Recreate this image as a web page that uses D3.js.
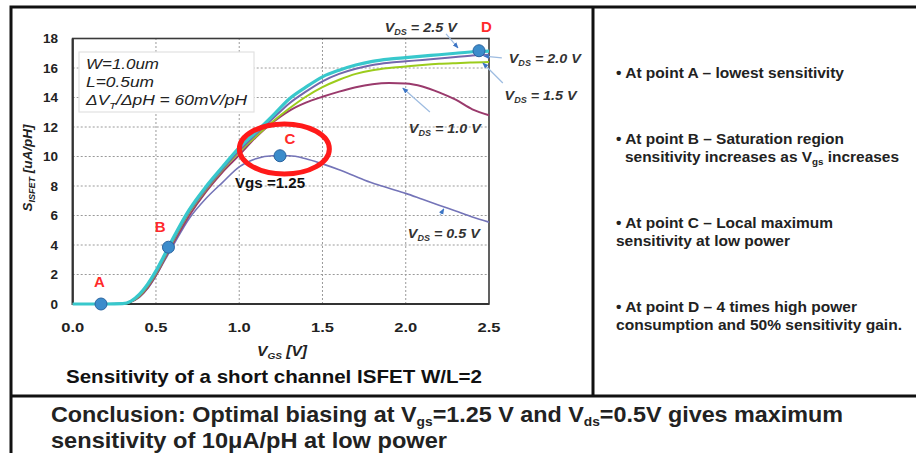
<!DOCTYPE html>
<html lang="en">
<head>
<meta charset="UTF-8">
<title>ISFET sensitivity</title>
<style>
  html, body { margin: 0; padding: 0; background: #fff; }
  body { font-family: "Liberation Sans", Arial, sans-serif; }
  svg text { font-family: "Liberation Sans", Arial, sans-serif; }
</style>
<script src="https://d3js.org/d3.v7.min.js"></script>
</head>
<body>
<script>
// gate voltage grid (V)
var vgs = [0, 0.1, 0.2, 0.3, 0.35, 0.4, 0.45, 0.5, 0.55, 0.6, 0.7, 0.8, 0.9, 1.0, 1.1, 1.2, 1.3, 1.4, 1.5, 1.6, 1.7, 1.8, 1.9, 2.0, 2.1, 2.2, 2.3, 2.4, 2.5];

// sensitivity S_ISFET (uA/pH) for each drain voltage
var s05 = [0, 0, 0, 0.02, 0.15, 0.45, 1.05, 1.9, 2.9, 3.9, 5.8, 7.15, 8.25, 9.3, 9.85, 10.05, 10.05, 9.85, 9.5, 9.1, 8.65, 8.2, 7.85, 7.5, 7.1, 6.7, 6.3, 5.9, 5.55];
var s10 = [0, 0, 0, 0.02, 0.15, 0.5, 1.1, 1.95, 3.0, 4.05, 6.0, 7.6, 8.95, 10.1, 11.3, 12.3, 13.1, 13.65, 14.05, 14.4, 14.7, 14.9, 14.98, 14.95, 14.75, 14.35, 13.85, 13.2, 12.8];
var s15 = [0, 0, 0, 0.02, 0.17, 0.55, 1.2, 2.05, 3.1, 4.2, 6.2, 7.75, 9.1, 10.3, 11.35, 12.35, 13.25, 14.05, 14.7, 15.2, 15.6, 15.85, 16.0, 16.1, 16.2, 16.28, 16.33, 16.37, 16.4];
var s20 = [0, 0, 0, 0.03, 0.18, 0.6, 1.25, 2.1, 3.15, 4.25, 6.25, 7.8, 9.15, 10.4, 11.5, 12.55, 13.6, 14.4, 15.1, 15.6, 15.95, 16.2, 16.35, 16.45, 16.55, 16.65, 16.75, 16.85, 16.9];
var s25 = [0, 0, 0, 0.03, 0.2, 0.65, 1.35, 2.25, 3.3, 4.4, 6.4, 7.95, 9.3, 10.6, 11.65, 12.75, 13.9, 14.7, 15.4, 15.85, 16.2, 16.45, 16.6, 16.7, 16.8, 16.9, 17.0, 17.1, 17.15];

var seriesNames = ["0.5", "1.0", "1.5", "2.0", "2.5"];
var seriesValues = [s05, s10, s15, s20, s25];
var seriesColors = ["#7474b8", "#9a3a6c", "#9ccc1c", "#7466ac", "#38c8cc"];
var seriesWidths = [1.6, 2, 2, 2, 3.2];

// operating points
var pointNames = ["A", "B", "C", "D"];
var pointVgs = [0.17, 0.575, 1.245, 2.44];
var pointS = [0, 3.85, 10.05, 17.17];

var xTicks = [0, 0.5, 1.0, 1.5, 2.0, 2.5];
var yTicks = [0, 2, 4, 6, 8, 10, 12, 14, 16, 18];

var W = 916, H = 453;
var svg = d3.select("body").append("svg")
    .attr("width", W).attr("height", H);

svg.append("rect").attr("width", W).attr("height", H).attr("fill", "#fff");

var x = d3.scaleLinear().domain([0, 2.5]).range([72.7, 489]);
var y = d3.scaleLinear().domain([0, 18]).range([304, 38.5]);

// grid
var grid = svg.append("g");
grid.selectAll(".gx").data(xTicks.slice(1, -1)).enter().append("line")
    .attr("x1", d => x(d)).attr("x2", d => x(d))
    .attr("y1", y(0)).attr("y2", y(18))
    .attr("stroke", "#9a9a9a").attr("stroke-width", 1).attr("stroke-dasharray", "2,2");
grid.selectAll(".gy").data(yTicks.slice(1, -1)).enter().append("line")
    .attr("y1", d => y(d)).attr("y2", d => y(d))
    .attr("x1", x(0)).attr("x2", x(2.5))
    .attr("stroke", "#9a9a9a").attr("stroke-width", 1).attr("stroke-dasharray", "2,2");

// parameter box
svg.append("rect").attr("x", 79).attr("y", 52).attr("width", 175).attr("height", 60)
    .attr("fill", "#fff").attr("stroke", "#e2e2e2").attr("stroke-width", 1.2);
var box = svg.append("g").attr("font-size", 14).attr("font-style", "italic").attr("fill", "#222")
    .attr("lengthAdjust", "spacingAndGlyphs");
box.append("text").attr("x", 86).attr("y", 69).attr("textLength", 73).attr("lengthAdjust", "spacingAndGlyphs").text("W=1.0um");
box.append("text").attr("x", 86).attr("y", 87).attr("textLength", 68).attr("lengthAdjust", "spacingAndGlyphs").text("L=0.5um");
var dv = box.append("text").attr("x", 86).attr("y", 105).attr("textLength", 161).attr("lengthAdjust", "spacingAndGlyphs");
dv.append("tspan").text("ΔV");
dv.append("tspan").attr("font-size", 9).attr("dy", 4).text("T");
dv.append("tspan").attr("dy", -4).text("/ΔpH = 60mV/pH");

// frame
svg.append("rect").attr("x", x(0)).attr("y", y(18))
    .attr("width", x(2.5) - x(0)).attr("height", y(0) - y(18))
    .attr("fill", "none").attr("stroke", "#3a3a3a").attr("stroke-width", 1.6);
svg.append("path")
    .attr("d", "M" + x(0) + "," + y(18) + "V" + y(0) + "H" + x(2.5))
    .attr("fill", "none").attr("stroke", "#333").attr("stroke-width", 2.2);

// ticks
svg.append("g").selectAll("text").data(yTicks).enter().append("text")
    .attr("x", 58).attr("y", d => y(d)).attr("dy", "0.36em")
    .attr("text-anchor", "end").attr("font-size", 13.5).attr("font-weight", "bold").attr("fill", "#222")
    .text(d => d);
svg.append("g").selectAll("text").data(xTicks).enter().append("text")
    .attr("x", d => x(d)).attr("y", 332)
    .attr("text-anchor", "middle").attr("font-size", 13.5).attr("font-weight", "bold").attr("fill", "#222")
    .attr("textLength", 23).attr("lengthAdjust", "spacingAndGlyphs")
    .text(d => d.toFixed(1));

// axis labels
var xl = svg.append("text").attr("x", 282).attr("y", 356).attr("text-anchor", "middle")
    .attr("font-size", 14).attr("font-weight", "bold").attr("font-style", "italic").attr("fill", "#222")
    .attr("textLength", 50).attr("lengthAdjust", "spacingAndGlyphs");
xl.append("tspan").text("V");
xl.append("tspan").attr("font-size", 9).attr("dy", 3).text("GS");
xl.append("tspan").attr("dy", -3).text(" [V]");

var yl = svg.append("text").attr("transform", "translate(32,168) rotate(-90)").attr("text-anchor", "middle")
    .attr("font-size", 13.5).attr("font-weight", "bold").attr("font-style", "italic").attr("fill", "#222");
yl.append("tspan").text("S");
yl.append("tspan").attr("font-size", 9).attr("dy", 3).text("ISFET");
yl.append("tspan").attr("dy", -3).text(" [uA/pH]");

svg.append("text").attr("x", 274).attr("y", 383).attr("text-anchor", "middle")
    .attr("font-size", 19).attr("font-weight", "bold").attr("fill", "#111")
    .attr("textLength", 416).attr("lengthAdjust", "spacingAndGlyphs")
    .text("Sensitivity of a short channel ISFET W/L=2");

// curves
var line = d3.line()
    .x(d => x(d[0])).y(d => y(d[1]))
    .curve(d3.curveMonotoneX);
svg.append("g").selectAll("path").data(seriesValues).enter().append("path")
    .attr("d", vals => line(vgs.map((v, i) => [v, vals[i]])))
    .attr("fill", "none")
    .attr("stroke", (d, i) => seriesColors[i])
    .attr("stroke-width", (d, i) => seriesWidths[i]);

// red ellipse around point C
svg.append("ellipse").attr("cx", x(1.271)).attr("cy", y(10.51)).attr("rx", 45).attr("ry", 25)
    .attr("fill", "none").attr("stroke", "#ff1a1a").attr("stroke-width", 5);

// operating points
svg.append("g").selectAll("circle").data(pointNames).enter().append("circle")
    .attr("cx", (d, i) => x(pointVgs[i])).attr("cy", (d, i) => y(pointS[i])).attr("r", 6)
    .attr("fill", "#3c8ccb").attr("stroke", "#2a64a0").attr("stroke-width", 1);

var letterPos = [[0.16, 1.16], [0.525, 4.9], [1.305, 10.85], [2.485, 18.44]];
svg.append("g").selectAll("text").data(pointNames).enter().append("text")
    .attr("x", (d, i) => x(letterPos[i][0])).attr("y", (d, i) => y(letterPos[i][1]))
    .attr("text-anchor", "middle").attr("font-size", 15).attr("font-weight", "bold").attr("fill", "#ff2a2a")
    .text(d => d);

svg.append("text").attr("x", x(0.975)).attr("y", y(7.86))
    .attr("font-size", 14).attr("font-weight", "bold").attr("fill", "#111")
    .attr("textLength", 70).attr("lengthAdjust", "spacingAndGlyphs").text("Vgs =1.25");

// VDS labels and arrows
var defs = svg.append("defs");
defs.append("marker").attr("id", "ah").attr("viewBox", "0 0 10 10").attr("refX", 9).attr("refY", 5)
    .attr("markerWidth", 5).attr("markerHeight", 5).attr("orient", "auto")
    .append("path").attr("d", "M0,1L10,5L0,9Z").attr("fill", "#3b74c4");

var labelPos = [[2.229, 4.47], [2.235, 11.59], [2.81, 13.83], [2.835, 16.34], [2.09, 18.44]];
var arrowFrom = [[2.205, 6.0], [2.145, 13.02], [2.583, 14.98], [2.577, 16.68], [2.242, 18.31]];
var arrowTo = [[2.229, 6.45], [1.982, 14.64], [2.463, 16.34], [2.469, 16.81], [2.314, 17.36]];

svg.append("g").selectAll("line").data(seriesNames).enter().append("line")
    .attr("x1", (d, i) => x(arrowFrom[i][0])).attr("y1", (d, i) => y(arrowFrom[i][1]))
    .attr("x2", (d, i) => x(arrowTo[i][0])).attr("y2", (d, i) => y(arrowTo[i][1]))
    .attr("stroke", "#9dbbe0").attr("stroke-width", 1.2).attr("marker-end", "url(#ah)");

var vl = svg.append("g").selectAll("text").data(seriesNames).enter().append("text")
    .attr("x", (d, i) => x(labelPos[i][0])).attr("y", (d, i) => y(labelPos[i][1]))
    .attr("text-anchor", "middle").attr("font-size", 13.5).attr("font-weight", "bold")
    .attr("font-style", "italic").attr("fill", "#333")
    .attr("textLength", 72).attr("lengthAdjust", "spacingAndGlyphs");
vl.append("tspan").text("V");
vl.append("tspan").attr("font-size", 8.5).attr("dy", 3).text("DS");
vl.append("tspan").attr("dy", -3).text(d => " = " + d + " V");

// panel borders
var border = svg.append("g").attr("stroke", "#111").attr("stroke-width", 3).attr("fill", "none");
border.append("path").attr("d", "M11,453V7H916");
border.append("path").attr("d", "M593,7V396");
border.append("path").attr("d", "M11,396H916");

// right panel notes
var notes = svg.append("g").attr("font-size", 15).attr("font-weight", "bold").attr("fill", "#222");
function note(xp, yp, len, txt) {
    return notes.append("text").attr("x", xp).attr("y", yp)
        .attr("textLength", len).attr("lengthAdjust", "spacingAndGlyphs").text(txt);
}
note(616, 78, 228, "• At point A – lowest sensitivity");
note(616, 144, 228, "• At point B – Saturation region");
var nb = notes.append("text").attr("x", 625).attr("y", 162)
    .attr("textLength", 274).attr("lengthAdjust", "spacingAndGlyphs");
nb.append("tspan").text("sensitivity increases as V");
nb.append("tspan").attr("font-size", 9.5).attr("dy", 3).text("gs");
nb.append("tspan").attr("dy", -3).text(" increases");
note(616, 228, 217, "• At point C – Local maximum");
note(616, 246, 174, "sensitivity at low power");
note(616, 312, 241, "• At point D – 4 times high power");
note(616, 330, 286, "consumption and 50% sensitivity gain.");

// conclusion
var concl = svg.append("g").attr("font-size", 22).attr("font-weight", "bold").attr("fill", "#222");
var c1 = concl.append("text").attr("x", 51).attr("y", 422)
    .attr("textLength", 792).attr("lengthAdjust", "spacingAndGlyphs");
c1.append("tspan").text("Conclusion: Optimal biasing at V");
c1.append("tspan").attr("font-size", 13).attr("dy", 4).text("gs");
c1.append("tspan").attr("dy", -4).text("=1.25 V and V");
c1.append("tspan").attr("font-size", 13).attr("dy", 4).text("ds");
c1.append("tspan").attr("dy", -4).text("=0.5V gives maximum");
concl.append("text").attr("x", 51).attr("y", 448)
    .attr("textLength", 396).attr("lengthAdjust", "spacingAndGlyphs")
    .text("sensitivity of 10μA/pH at low power");
</script>
</body>
</html>
